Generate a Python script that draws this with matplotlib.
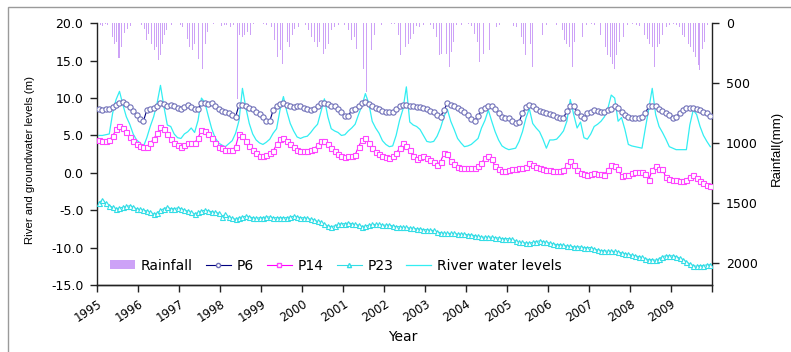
import numpy as np
import matplotlib
matplotlib.use('Agg')
import matplotlib.pyplot as plt
import matplotlib.transforms as mtransforms
from matplotlib.patches import Rectangle, Patch
from matplotlib.lines import Line2D

plt.rcParams['font.family'] = ['DejaVu Sans']

# ---------------- data ----------------
year_labels = [str(y) for y in range(1995, 2010)]
n_months = 15 * 12
month_t = 1995 + (np.arange(n_months) + 0.5) / 12.0   # monthly observation times

p6 = [
    8.6, 8.4, 8.5, 8.6, 8.8, 9.1, 9.4, 9.5, 9.2, 8.8, 8.3, 7.7,   # 1995
    7.2, 6.9, 8.4, 8.5, 8.7, 9.0, 9.3, 9.2, 8.9, 9.1, 9.0, 8.7,   # 1996
    8.5, 8.8, 9.1, 8.8, 8.5, 8.6, 9.3, 9.4, 9.2, 9.3, 9.0, 8.5,   # 1997
    8.3, 8.2, 8.0, 7.8, 7.5, 9.1, 9.1, 8.9, 8.7, 8.5, 8.2, 7.9,   # 1998
    7.5, 7.0, 6.9, 8.4, 8.9, 9.2, 9.3, 9.1, 8.9, 8.8, 8.9, 8.9,   # 1999
    8.7, 8.5, 8.4, 8.6, 8.9, 9.3, 9.3, 9.2, 9.0, 8.9, 8.6, 8.2,   # 2000
    7.6, 7.6, 8.4, 8.6, 8.9, 9.3, 9.5, 9.2, 8.9, 8.7, 8.5, 8.3,   # 2001
    8.2, 8.2, 8.1, 8.5, 8.9, 9.1, 9.1, 8.9, 8.9, 8.8, 8.8, 8.7,   # 2002
    8.6, 8.3, 8.1, 7.7, 7.5, 8.4, 9.3, 9.1, 8.9, 8.7, 8.4, 8.1,   # 2003
    7.8, 7.2, 7.0, 7.6, 8.4, 8.7, 8.9, 8.9, 8.5, 8.0, 7.5, 7.3,   # 2004
    7.3, 6.9, 6.6, 6.8, 8.0, 8.8, 9.1, 9.0, 8.6, 8.3, 8.1, 8.0,   # 2005
    7.9, 7.8, 7.5, 7.3, 7.3, 8.3, 8.9, 8.9, 8.1, 7.6, 7.3, 8.0,   # 2006
    8.2, 8.4, 8.3, 8.2, 8.2, 8.4, 8.6, 8.9, 8.7, 8.1, 7.8, 7.5,   # 2007
    7.4, 7.3, 7.4, 7.5, 8.0, 8.9, 8.9, 8.9, 8.5, 8.3, 8.0, 7.8,   # 2008
    7.4, 7.5, 8.0, 8.4, 8.7, 8.7, 8.7, 8.6, 8.4, 8.2, 8.0, 7.6,   # 2009
]

p14 = [
    4.4, 4.3, 4.3, 4.4, 4.9, 5.8, 6.2, 6.0, 5.4, 4.8, 4.2, 3.8,
    3.6, 3.5, 3.5, 4.0, 4.5, 5.3, 6.1, 5.9, 5.2, 4.5, 4.0, 3.7,
    3.5, 3.7, 4.0, 4.0, 4.0, 4.7, 5.7, 5.6, 5.2, 4.6, 4.0, 3.5,
    3.3, 3.1, 3.1, 3.1, 3.5, 5.2, 4.9, 4.2, 3.6, 3.0, 2.6, 2.3,
    2.2, 2.4, 2.6, 2.9, 3.8, 4.5, 4.6, 4.3, 3.9, 3.4, 3.0, 2.9,
    2.9, 2.9, 3.0, 3.2, 3.7, 4.3, 4.2, 3.8, 3.3, 2.9, 2.5, 2.2,
    2.1, 2.2, 2.3, 2.4, 3.5, 4.4, 4.6, 4.0, 3.3, 2.8, 2.5, 2.2,
    2.1, 2.0, 2.2, 2.6, 3.3, 4.0, 3.6, 3.0, 2.2, 1.8, 2.1, 2.2,
    2.0, 1.7, 1.4, 1.1, 1.5, 2.6, 2.5, 1.6, 1.2, 0.8, 0.6, 0.6,
    0.6, 0.6, 0.7, 0.9, 1.3, 2.0, 2.3, 1.8, 0.9, 0.5, 0.3, 0.3,
    0.4, 0.5, 0.5, 0.6, 0.6, 0.8, 1.3, 1.1, 0.8, 0.6, 0.5, 0.4,
    0.4, 0.3, 0.2, 0.3, 0.4, 1.0, 1.6, 1.1, 0.4, 0.0, -0.2, -0.25,
    -0.2, 0.0, -0.1, -0.2, -0.25, 0.4, 1.0, 0.9, 0.5, -0.4, -0.3, -0.25,
    0.0, 0.1, 0.1, 0.1, -0.1, -0.9, 0.4, 0.9, 0.5, 0.5, -0.6, -0.8,
    -0.9, -1.0, -1.15, -1.1, -0.9, -0.5, -0.3, -0.7, -1.15, -1.4, -1.6, -1.8,
]

p23 = [
    -4.0, -3.6, -4.1, -4.4, -4.6, -4.8, -4.7, -4.6, -4.5, -4.4, -4.6, -4.8,
    -4.9, -5.0, -5.1, -5.3, -5.5, -5.4, -5.0, -4.8, -4.6, -4.8, -4.8, -4.7,
    -4.8, -5.0, -5.1, -5.3, -5.5, -5.3, -5.1, -5.0, -5.1, -5.2, -5.3, -5.4,
    -5.9, -5.5, -5.9, -6.1, -6.2, -6.0, -5.9, -5.8, -5.9, -6.0, -6.1, -6.0,
    -6.0, -5.9, -5.9, -6.0, -6.0, -6.0, -6.0, -6.0, -5.9, -5.8, -5.9, -6.0,
    -6.0, -6.1, -6.2, -6.3, -6.5, -6.6, -6.9, -7.1, -7.2, -7.1, -6.9, -6.8,
    -6.8, -6.7, -6.8, -6.9, -7.0, -7.2, -7.1, -7.0, -6.9, -6.9, -6.9, -7.0,
    -7.0, -7.0, -7.1, -7.2, -7.2, -7.3, -7.3, -7.4, -7.4, -7.5, -7.5, -7.6,
    -7.6, -7.7, -7.7, -7.9, -8.0, -8.1, -8.1, -8.1, -8.1, -8.2, -8.2, -8.2,
    -8.3, -8.3, -8.4, -8.5, -8.6, -8.6, -8.6, -8.6, -8.7, -8.7, -8.8, -8.8,
    -8.8, -8.9, -9.1, -9.3, -9.3, -9.4, -9.4, -9.3, -9.2, -9.1, -9.2, -9.3,
    -9.4, -9.5, -9.6, -9.6, -9.7, -9.8, -9.8, -9.9, -9.9, -9.9, -10.0, -10.0,
    -10.0, -10.2, -10.3, -10.4, -10.4, -10.5, -10.5, -10.5, -10.6, -10.7, -10.8, -10.9,
    -11.0, -11.1, -11.2, -11.3, -11.5, -11.6, -11.6, -11.7, -11.5, -11.2, -11.1, -11.1,
    -11.1, -11.2, -11.4, -11.6, -11.9, -12.2, -12.4, -12.5, -12.4, -12.4, -12.3, -12.3,
]

river = [
    5.0, 5.0, 5.1, 5.2, 8.0, 9.8, 10.9, 9.1, 7.5, 6.5, 5.2, 4.4,
    4.0, 3.5, 4.7, 6.2, 7.5, 9.3, 11.7, 8.9, 6.4, 6.2, 5.2, 4.7,
    4.6, 5.2, 5.5, 6.0, 5.4, 7.0, 10.0, 9.4, 7.6, 5.9, 4.7, 4.0,
    3.7, 3.5, 3.9, 4.3, 5.3, 7.0, 11.3, 8.7, 6.6, 5.2, 4.4, 4.0,
    3.8, 4.1, 4.5, 5.3, 5.9, 8.4, 10.2, 8.2, 6.6, 5.6, 4.8, 4.6,
    4.8, 4.9, 5.4, 6.0, 6.5, 8.2, 9.9, 7.5, 5.9, 5.6, 5.4, 5.0,
    5.1, 5.6, 6.0, 6.5, 7.8, 9.0, 10.6, 9.3, 6.9, 6.0, 5.3, 4.3,
    3.8, 3.5, 3.6, 5.0, 7.0, 8.5, 11.5, 6.8, 6.4, 6.2, 5.8, 5.0,
    4.2, 4.1, 4.2, 4.9, 6.0, 7.5, 8.5, 6.9, 5.8, 4.6, 4.0, 3.5,
    3.6, 3.8, 4.2, 4.6, 6.0, 7.0, 8.4, 6.9, 5.5, 4.4, 3.6, 3.3,
    3.1, 3.2, 3.3, 4.2, 5.5, 7.3, 8.6, 6.6, 6.0, 5.5, 4.5, 3.3,
    4.4, 4.4, 4.5, 5.0, 5.6, 6.9, 9.8, 7.8, 6.0, 6.8, 4.7, 4.5,
    5.2, 6.2, 6.5, 6.9, 7.5, 8.6, 10.4, 10.0, 6.9, 7.4, 5.8, 3.8,
    3.6, 3.5, 3.4, 3.3, 6.0, 8.6, 11.3, 7.8, 6.2, 5.4, 4.5, 3.5,
    3.3, 3.1, 3.1, 3.1, 3.1, 6.4, 8.4, 7.8, 6.2, 5.0, 4.2, 3.5,
]

rain_dates = [
    1995.07, 1995.12, 1995.19, 1995.25, 1995.31, 1995.37, 1995.42, 1995.47, 1995.51, 1995.55, 1995.59, 1995.66, 1995.74, 1995.82,
    1996.08, 1996.15, 1996.20, 1996.26, 1996.33, 1996.39, 1996.45, 1996.49, 1996.55, 1996.59, 1996.65, 1996.69, 1996.80,
    1997.02, 1997.07, 1997.14, 1997.20, 1997.26, 1997.32, 1997.38, 1997.46, 1997.53, 1997.56, 1997.63, 1997.69, 1997.75, 1997.83,
    1998.03, 1998.10, 1998.16, 1998.24, 1998.32, 1998.42, 1998.48, 1998.54, 1998.60, 1998.67, 1998.73, 1998.81,
    1998.97, 1999.05, 1999.13, 1999.25, 1999.33, 1999.40, 1999.46, 1999.51, 1999.58, 1999.64, 1999.70, 1999.76, 1999.82, 1999.90,
    2000.07, 2000.15, 2000.23, 2000.31, 2000.38, 2000.43, 2000.51, 2000.57, 2000.64, 2000.72, 2000.78, 2000.88,
    2001.04, 2001.12, 2001.20, 2001.27, 2001.33, 2001.41, 2001.49, 2001.57, 2001.63, 2001.69, 2001.76, 2001.85, 2001.94,
    2002.18, 2002.26, 2002.34, 2002.40, 2002.46, 2002.53, 2002.59, 2002.64, 2002.71, 2002.79, 2002.87, 2002.95,
    2003.12, 2003.20, 2003.28, 2003.34, 2003.40, 2003.46, 2003.52, 2003.59, 2003.64, 2003.70, 2003.77, 2003.89,
    2004.05, 2004.13, 2004.21, 2004.27, 2004.33, 2004.42, 2004.46, 2004.51, 2004.58, 2004.68, 2004.74, 2004.82,
    2005.07, 2005.15, 2005.23, 2005.35, 2005.39, 2005.45, 2005.51, 2005.57, 2005.62, 2005.68, 2005.73, 2005.86, 2005.96,
    2006.12, 2006.20, 2006.29, 2006.35, 2006.41, 2006.46, 2006.53, 2006.59, 2006.65, 2006.73, 2006.84, 2006.94,
    2007.06, 2007.14, 2007.28, 2007.34, 2007.41, 2007.46, 2007.52, 2007.57, 2007.63, 2007.68, 2007.75, 2007.83, 2007.93,
    2008.07, 2008.16, 2008.24, 2008.36, 2008.42, 2008.48, 2008.55, 2008.60, 2008.66, 2008.72, 2008.79, 2008.89, 2008.97,
    2009.05, 2009.13, 2009.21, 2009.28, 2009.33, 2009.42, 2009.47, 2009.54, 2009.60, 2009.66, 2009.70, 2009.77, 2009.82, 2009.90,
]
rain_mm = [
    17, 25, 8, 14, 100, 114, 170, 156, 289, 289, 197, 81, 44, 25,
    17, 44, 142, 86, 170, 220, 197, 303, 267, 170, 100, 58, 14,
    17, 31, 72, 128, 197, 225, 170, 295, 392, 378, 170, 72, 31, 8,
    25, 14, 17, 31, 17, 630, 100, 114, 100, 72, 100, 8,
    17, 8, 17, 31, 142, 281, 225, 336, 253, 156, 197, 100, 44, 31,
    17, 58, 114, 156, 197, 156, 253, 211, 170, 58, 31, 14,
    17, 58, 142, 114, 211, 364, 378, 570, 336, 225, 100, 31, 17,
    8, 3, 100, 267, 239, 197, 170, 128, 86, 25, 31, 17,
    17, 44, 114, 267, 253, 183, 253, 364, 239, 156, 17, 17,
    8, 25, 86, 156, 322, 253, 170, 350, 225, 100, 31, 17,
    17, 25, 31, 114, 170, 267, 253, 170, 364, 336, 197, 100, 17,
    17, 17, 100, 58, 142, 170, 197, 364, 156, 72, 114, 17,
    8, 17, 100, 142, 197, 267, 281, 336, 378, 267, 156, 114, 17,
    8, 17, 25, 100, 128, 170, 197, 364, 197, 170, 100, 31, 17,
    8, 17, 31, 100, 114, 170, 197, 239, 281, 350, 392, 211, 156, 17,
]

left_ticks = [-15, -10, -5, 0, 5, 10, 15, 20]
right_ticks = [0, 500, 1000, 1500, 2000]

# ---------------- colours ----------------
c_rain = '#CDA2F7'
c_p6_line, c_p6_mk = '#000080', '#7070B8'
c_p14 = '#FF00FF'
c_p23 = '#33DDE6'
c_river = '#33EEF2'

# ---------------- figure ----------------
W, H = 791, 352
fig = plt.figure(figsize=(W / 100, H / 100), dpi=100)
x0, x1, y0, y1 = 97.3, 712.0, 23.3, 285.0
ax = fig.add_axes([x0 / W, 1 - y1 / H, (x1 - x0) / W, (y1 - y0) / H])
ax2 = ax.twinx()

# rainfall (hanging bars on inverted right axis)
ax2.bar(rain_dates, rain_mm, width=0.022, bottom=0, color=c_rain,
        linewidth=0, align='center')
ax2.set_ylim(2183, 0)
ax2.set_yticks(right_ticks)
ax2.set_yticklabels([str(v) for v in right_ticks])

# groundwater & river
ax.plot(month_t, river, color=c_river, lw=0.9, zorder=2)
ax.plot(month_t, p23, color=c_p23, lw=0.8, marker='^', ms=3.6,
        mfc='white', mec=c_p23, mew=0.8, zorder=3)
ax.plot(month_t, p14, color=c_p14, lw=0.8, marker='s', ms=3.6,
        mfc='white', mec='#FF44FF', mew=0.8, zorder=3)
ax.plot(month_t, p6, color=c_p6_line, lw=0.8, marker='o', ms=3.8,
        mfc='white', mec=c_p6_mk, mew=0.8, zorder=4)

ax.set_zorder(ax2.get_zorder() + 1)
ax.patch.set_visible(False)

ax.set_xlim(1995, 2010)
ax.set_ylim(-15, 20)
ax.set_yticks(left_ticks)
ax.set_yticklabels(['%.1f' % v for v in left_ticks])
ax.set_xticks(range(1995, 2011))
ax.set_xticklabels(year_labels + [''], rotation=33, ha='right',
                   rotation_mode='anchor')
shift = mtransforms.ScaledTranslation(-5 / 100, 0, fig.dpi_scale_trans)
for lab in ax.get_xticklabels():
    lab.set_transform(lab.get_transform() + shift)

for a in (ax, ax2):
    a.spines['top'].set_visible(False)
    for s in a.spines.values():
        s.set_linewidth(1.0)
        s.set_color('#222222')
ax2.spines['left'].set_visible(False)
ax.spines['right'].set_visible(False)

ax.tick_params(axis='y', direction='out', length=5, width=1, labelsize=9,
               pad=5, colors='#222222', labelcolor='black')
ax.tick_params(axis='x', direction='out', length=5, width=1, labelsize=8.5,
               pad=4, colors='#222222', labelcolor='black')
ax2.tick_params(axis='y', direction='out', length=5, width=1, labelsize=9,
                pad=5, colors='#222222', labelcolor='black')

# axis labels
fig.text(30 / W, 1 - 160 / H, 'River and groundwater levels (m)', rotation=90,
         ha='center', va='center', fontsize=8.2, family='Liberation Sans')
fig.text(777 / W, 1 - 148 / H, 'Rainfall(mm)', rotation=90,
         ha='center', va='center', fontsize=9.5, family='Liberation Sans')
fig.text(403 / W, 1 - 337 / H, 'Year', ha='center', va='center', fontsize=10)

# legend
handles = [
    Patch(facecolor=c_rain, edgecolor='none'),
    Line2D([], [], color=c_p6_line, lw=0.8, marker='o', ms=3, mfc='white', mec=c_p6_mk),
    Line2D([], [], color=c_p14, lw=0.8, marker='s', ms=3, mfc='white', mec='#FF44FF'),
    Line2D([], [], color=c_p23, lw=0.8, marker='^', ms=3, mfc='white', mec=c_p23),
    Line2D([], [], color=c_river, lw=0.9),
]
labels = ['Rainfall', 'P6', 'P14', 'P23', 'River water levels']
ax.legend(handles, labels, loc='lower left', bbox_to_anchor=(0.005, 0.01),
          ncol=5, frameon=False, fontsize=10, handlelength=1.8,
          handleheight=0.6, handletextpad=0.4, columnspacing=0.95,
          borderpad=0.2)

# outer frame of the original picture
fig.patches.append(Rectangle((8 / W, -0.2), 1.5, 1 - 7 / H + 0.2,
                             transform=fig.transFigure, fill=False,
                             edgecolor='#9A9A9A', lw=1.0))

fig.savefig('out.png', dpi=100)
